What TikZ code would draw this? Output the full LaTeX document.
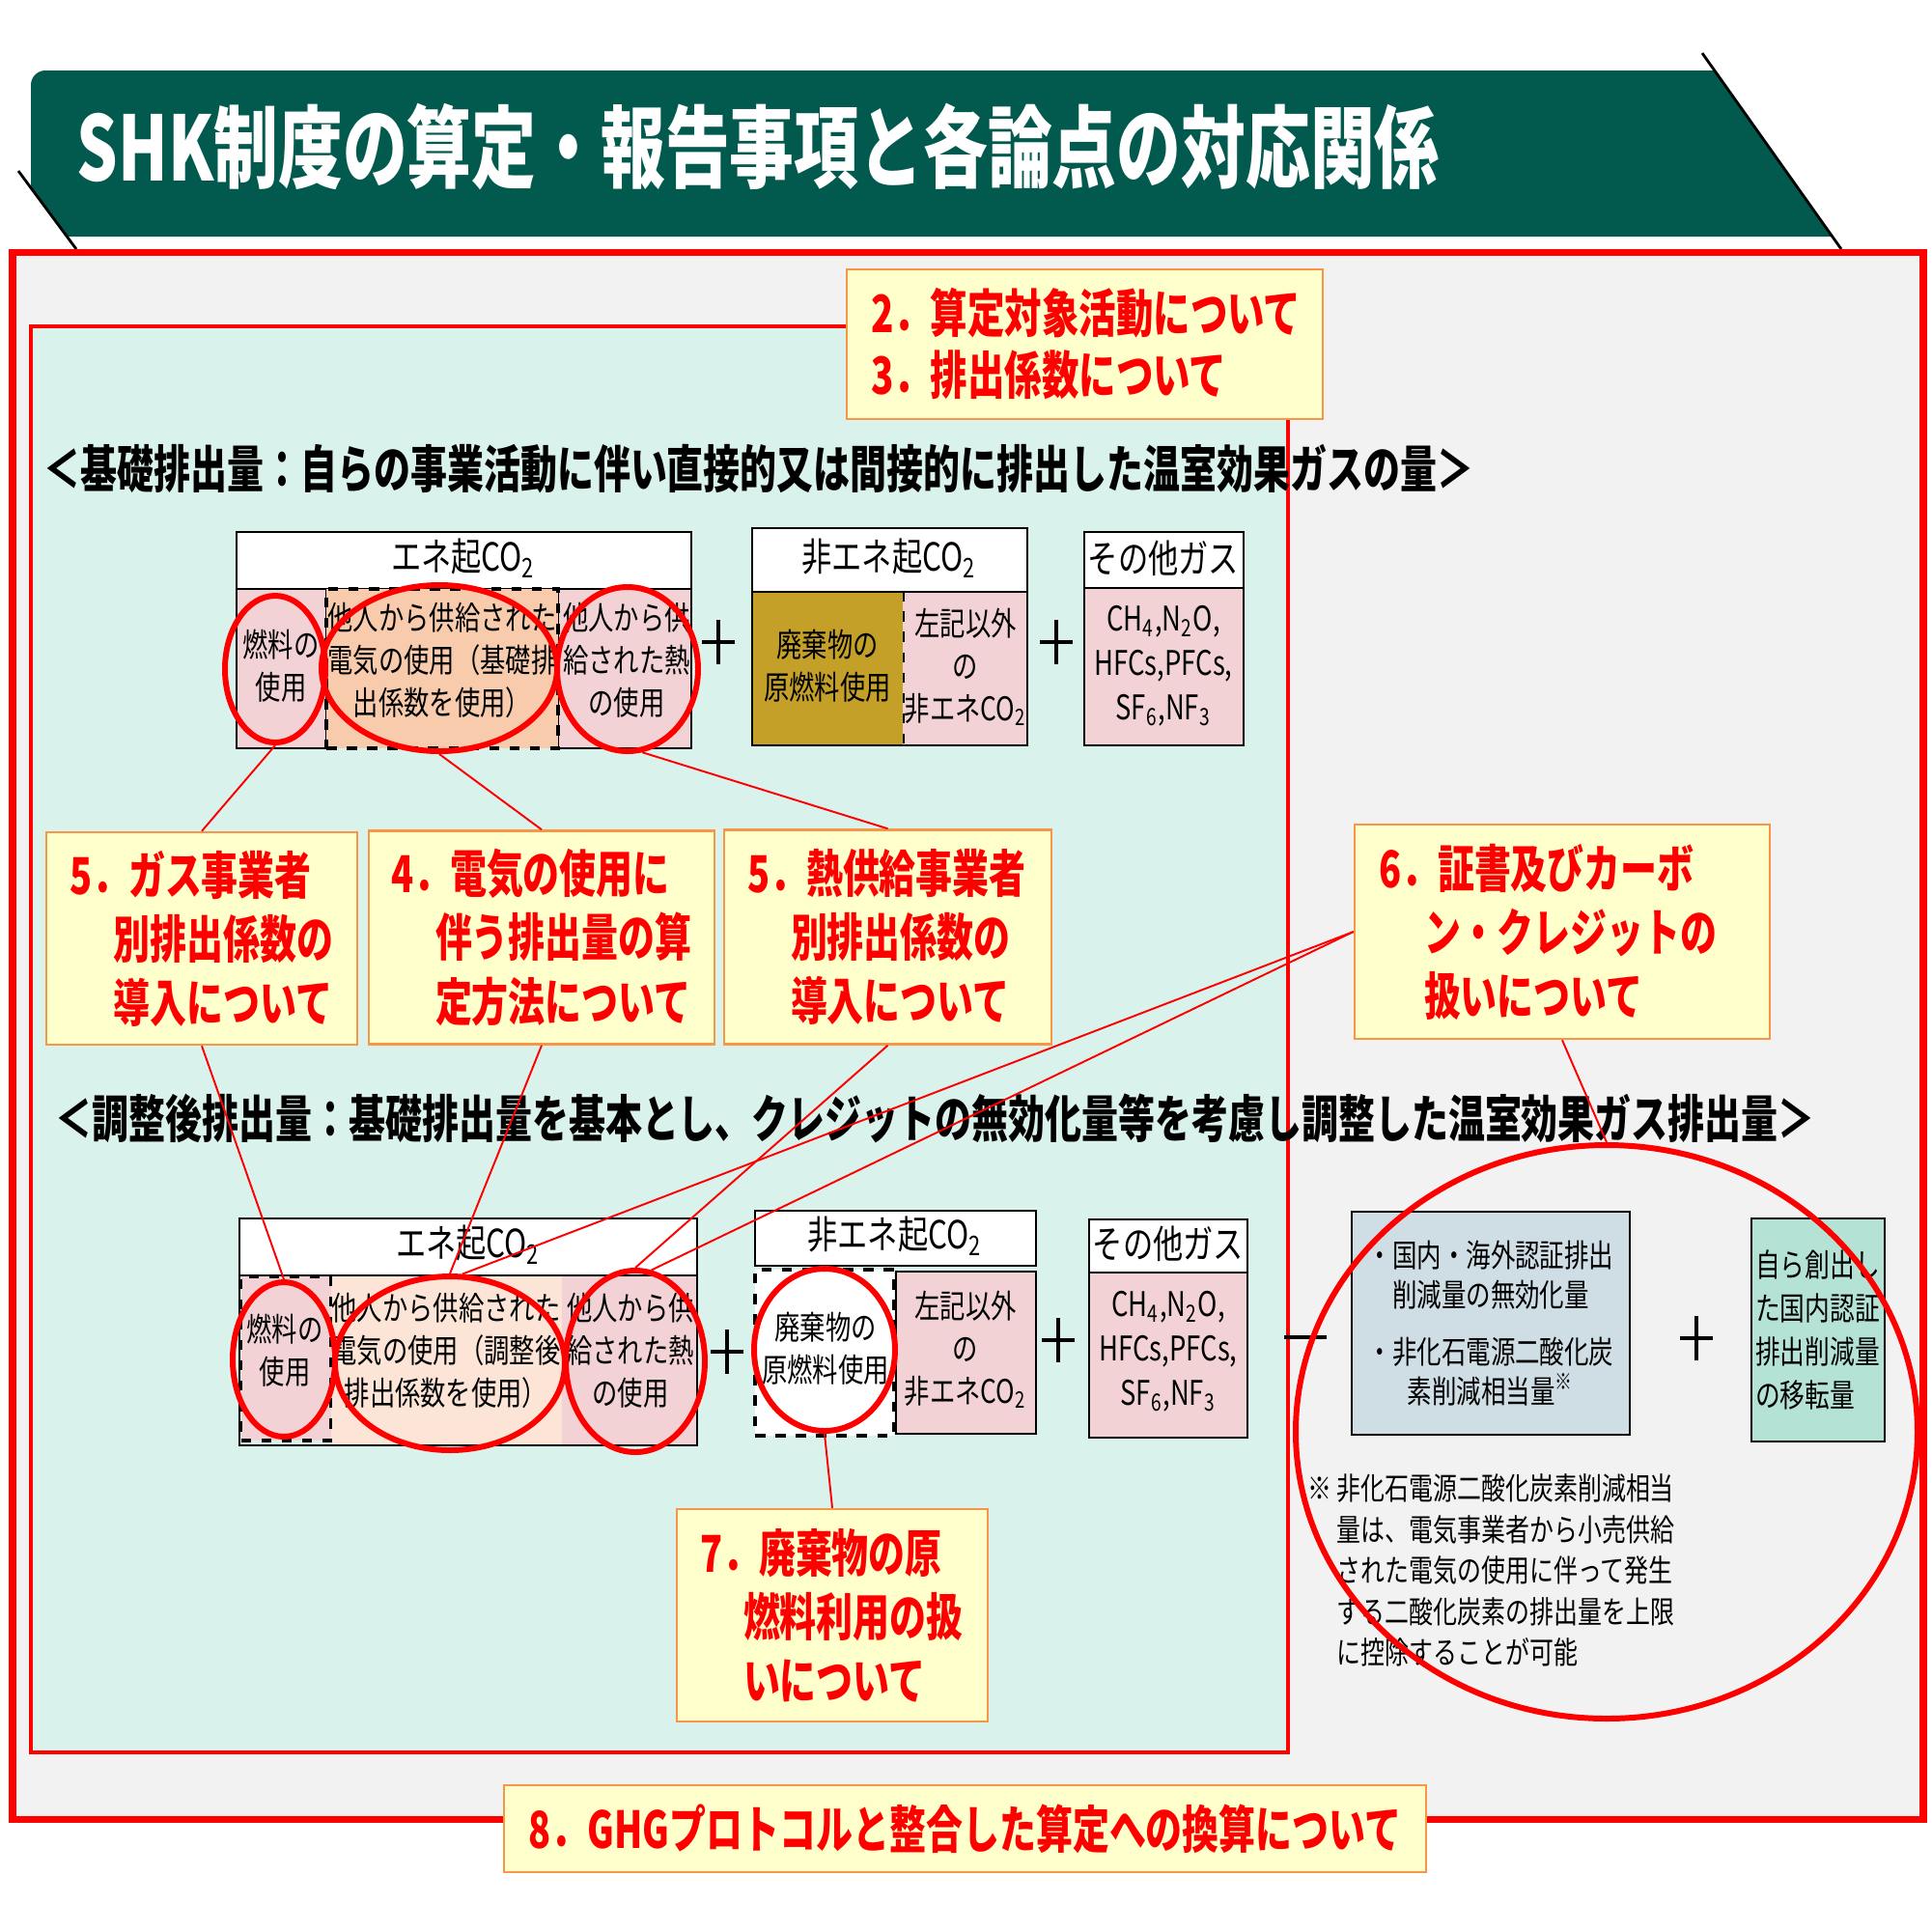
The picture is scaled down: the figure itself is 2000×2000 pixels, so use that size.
\documentclass[tikz,border=0pt]{standalone}
\usepackage{fontspec}
\setmainfont{Noto Sans CJK JP}[FakeStretch=0.78]
\newfontfamily\lblfont{Noto Sans CJK JP}[FakeStretch=0.72]
\usetikzlibrary{shapes.geometric}
\newcommand\fnt[2]{\fontsize{#1}{#2}\selectfont}
\definecolor{bannergreen}{RGB}{2,90,78}
\definecolor{framebg}{RGB}{242,242,242}
\definecolor{tealbg}{RGB}{217,242,236}
\definecolor{lblfill}{RGB}{255,255,204}
\definecolor{lbledge}{RGB}{247,150,70}
\definecolor{pinkc}{RGB}{242,210,213}
\definecolor{peachc}{RGB}{248,203,173}
\definecolor{lpeach}{RGB}{252,228,214}
\definecolor{goldc}{RGB}{197,160,40}
\definecolor{grayblue}{RGB}{207,221,228}
\definecolor{mintc}{RGB}{180,227,214}
\begin{document}
\begin{tikzpicture}[x=0.1mm,y=-0.1mm,
  cell/.style={draw=black, line width=0.6pt, inner sep=0},
  dcell/.style={draw=black, line width=0.9pt, dashed, inner sep=0},
  head/.style={cell, fill=white},
  ctext/.style={align=center, inner sep=0, font=\fnt{9.6}{12.5}},
  htext/.style={inner sep=0, font=\fnt{11.4}{14}},
  gtext/.style={align=center, inner sep=0, font=\fnt{10}{13.1}},
  ring/.style={ellipse, draw=red, line width=1.7pt, inner sep=0},
  lbl/.style={draw=lbledge, line width=0.7pt, fill=lblfill, text=red, font=\lblfont\bfseries\fnt{15}{18.8}, align=left, inner ysep=0},
  link/.style={red, line width=0.55pt},
  heading/.style={anchor=west, inner sep=0, font=\lblfont\bfseries\fnt{15.0}{17}},
  plusbar/.style={line width=1.4pt, black}]
\useasboundingbox (0,0) rectangle (2000,2000);
\fill[white] (0,0) rectangle (2000,2000);

% banner
\fill[bannergreen] (70,245) -- (32,194) [rounded corners=1.5mm] -- (32,73) [sharp corners] -- (1776,73) -- (1898,245) -- cycle;
\draw[line width=0.8pt] (1763,55) -- (1907,258);
\draw[line width=0.8pt] (19,177) -- (79,258);
\node[anchor=west, inner sep=0, text=white, font=\lblfont\bfseries\fnt{26.4}{30}] (title) at (79,152) {SHK制度の算定・報告事項と各論点の対応関係};

% frames
\draw[red, line width=2pt, fill=framebg] (13,261) rectangle (1992,1884);
\draw[red, line width=0.9pt, fill=tealbg] (32,338) rectangle (1334,1815);

% headings
\node[heading] (h1) at (45,486) {＜基礎排出量：自らの事業活動に伴い直接的又は間接的に排出した温室効果ガスの量＞};
\node[heading] (h2) at (57,1158) {＜調整後排出量：基礎排出量を基本とし、クレジットの無効化量等を考慮し調整した温室効果ガス排出量＞};

% ===== upper diagram =====
\node[head, minimum width=47.1mm, minimum height=5.9mm] (uEneHead) at (480.5,580.5) {};
\node[htext] (tUEneHead) at (480,578) {エネ起CO\textsubscript{2}};
\node[cell, fill=pinkc, minimum width=9.3mm, minimum height=16.5mm] (uFuel) at (291.5,692.5) {};
\node[cell, fill=pinkc, minimum width=13.8mm, minimum height=16.5mm] (uHeat) at (647,692.5) {};
\node[dcell, fill=peachc, minimum width=24.0mm, minimum height=16.5mm] (uElec) at (458,692.5) {};
\node[ctext] (tUFuel) at (291,690) {燃料の\\使用};
\node[ctext] (tUElec) at (458,684) {他人から供給された\\電気の使用（基礎排\\出係数を使用）};
\node[ctext] (tUHeat) at (649,684) {他人から供\\給された熱\\の使用};

\node[head, minimum width=28.5mm, minimum height=6.6mm] (uNonHead) at (921.5,580) {};
\node[htext] (tUNonHead) at (921,578) {非エネ起CO\textsubscript{2}};
\node[inner sep=0, fill=goldc, minimum width=15.6mm, minimum height=15.9mm] (uWaste) at (857,692.5) {};
\node[inner sep=0, fill=pinkc, minimum width=12.9mm, minimum height=15.9mm] (uOther) at (999.5,692.5) {};
\draw[line width=0.6pt] (779,613) rectangle (1064,772);
\draw[line width=0.6pt, dashed] (uWaste.north east) -- (uWaste.south east);
\node[ctext] (tUWaste) at (857,690) {廃棄物の\\原燃料使用};
\node[ctext] (tUOther) at (1000,691) {左記以外\\の\\非エネCO\textsubscript{2}};

\node[head, minimum width=16.5mm, minimum height=5.8mm] (uGasHead) at (1205.5,580) {};
\node[htext] (tUGasHead) at (1205,578) {その他ガス};
\node[cell, fill=pinkc, minimum width=16.5mm, minimum height=16.3mm] (uGas) at (1205.5,690.5) {};
\node[gtext] (tUGas) at (1205,690) {CH\textsubscript{4},N\textsubscript{2}O,\\HFCs,PFCs,\\SF\textsubscript{6},NF\textsubscript{3}};

\draw[plusbar] (727,665) -- (761,665) (744,642) -- (744,688);
\draw[plusbar] (1077,665) -- (1111,665) (1094,642) -- (1094,688);

% ===== lower diagram =====
\node[head, minimum width=47.4mm, minimum height=5.9mm] (lEneHead) at (485,1291.5) {};
\node[htext] (tLEneHead) at (485,1289) {エネ起CO\textsubscript{2}};
\node[inner sep=0, fill=lpeach, minimum width=23.9mm, minimum height=17.6mm] (lElec) at (462.5,1409) {};
\node[inner sep=0, fill=pinkc, minimum width=14.0mm, minimum height=17.6mm] (lHeat) at (652,1409) {};
\draw[line width=0.6pt] (248,1321) rectangle (722,1497);
\node[dcell, fill=pinkc, minimum width=9.3mm, minimum height=17.0mm] (lFuel) at (296,1407) {};
\node[ctext] (tLFuel) at (295,1399) {燃料の\\使用};
\node[ctext] (tLElec) at (462,1399) {他人から供給された\\電気の使用（調整後\\排出係数を使用）};
\node[ctext] (tLHeat) at (653,1399) {他人から供\\給された熱\\の使用};

\node[head, minimum width=29.1mm, minimum height=5.7mm] (lNonHead) at (927.5,1282.5) {};
\node[htext] (tLNonHead) at (927,1280) {非エネ起CO\textsubscript{2}};
\node[dcell, fill=white, minimum width=14.4mm, minimum height=17.2mm] (lWaste) at (854,1401) {};
\node[cell, fill=pinkc, minimum width=14.5mm, minimum height=16.8mm] (lOther) at (1000.5,1401) {};
\node[ctext] (tLWaste) at (855,1397) {廃棄物の\\原燃料使用};
\node[ctext] (tLOther) at (1000,1398) {左記以外\\の\\非エネCO\textsubscript{2}};

\node[head, minimum width=16.4mm, minimum height=5.5mm] (lGasHead) at (1210,1290.5) {};
\node[htext] (tLGasHead) at (1210,1288) {その他ガス};
\node[cell, fill=pinkc, minimum width=16.4mm, minimum height=17.1mm] (lGas) at (1210,1403.5) {};
\node[gtext] (tLGas) at (1210,1400) {CH\textsubscript{4},N\textsubscript{2}O,\\HFCs,PFCs,\\SF\textsubscript{6},NF\textsubscript{3}};

\draw[plusbar] (736,1400) -- (770,1400) (753,1377) -- (753,1423);
\draw[plusbar] (1079,1388) -- (1113,1388) (1096,1365) -- (1096,1411);
\draw[plusbar] (1330,1385) -- (1374,1385);
\draw[plusbar] (1740,1386) -- (1774,1386) (1757,1363) -- (1757,1409);

\node[cell, fill=grayblue, minimum width=28.8mm, minimum height=23.1mm, align=center, font=\fnt{9.3}{11.7}] (credit) at (1544,1370.5) {・国内・海外認証排出\\削減量の無効化量\\[5pt]・非化石電源二酸化炭\\素削減相当量\textsuperscript{※}};
\node[cell, fill=mintc, minimum width=13.8mm, minimum height=23.1mm, text width=13.0mm, inner xsep=0.4mm, align=left, font=\fnt{9.4}{12.8}] (transfer) at (1883,1377.5) {自ら創出し\\た国内認証\\排出削減量\\の移転量};

\node[anchor=north west, inner sep=0, align=left, font=\fnt{9.1}{12.1}] (note) at (1354,1526) {\makebox[3.0mm][l]{※}非化石電源二酸化炭素削減相当\\\hspace*{3.0mm}量は、電気事業者から小売供給\\\hspace*{3.0mm}された電気の使用に伴って発生\\\hspace*{3.0mm}する二酸化炭素の排出量を上限\\\hspace*{3.0mm}に控除することが可能};

% ===== labels =====
\node[lbl, minimum width=49.3mm, minimum height=15.5mm, text width=44.3mm, inner xsep=2.5mm, font=\lblfont\bfseries\fnt{15.2}{18.2}] (L23) at (1123.5,356.5) {2．算定対象活動について\\3．排出係数について};
\node[lbl, minimum width=32.2mm, minimum height=22mm, text width=27.4mm, inner xsep=2.4mm] (L5g) at (209,972) {5．ガス事業者\\\hspace*{4.6mm}別排出係数の\\\hspace*{4.6mm}導入について};
\node[lbl, minimum width=35.8mm, minimum height=22.1mm, text width=31.2mm, inner xsep=2.3mm] (L4) at (561,971) {4．電気の使用に\\\hspace*{4.6mm}伴う排出量の算\\\hspace*{4.6mm}定方法について};
\node[lbl, minimum width=33.9mm, minimum height=22.2mm, text width=29.1mm, inner xsep=2.4mm] (L5h) at (919.5,970.5) {5．熱供給事業者\\\hspace*{4.5mm}別排出係数の\\\hspace*{4.5mm}導入について};
\node[lbl, minimum width=43.0mm, minimum height=22.2mm, text width=38.0mm, inner xsep=2.5mm] (L6) at (1618,965) {6．証書及びカーボ\\\hspace*{4.7mm}ン・クレジットの\\\hspace*{4.7mm}扱いについて};
\node[lbl, minimum width=32.2mm, minimum height=22.0mm, text width=27.4mm, inner xsep=2.4mm] (L7) at (862,1673) {7．廃棄物の原\\\hspace*{4.5mm}燃料利用の扱\\\hspace*{4.5mm}いについて};
\node[lbl, minimum width=95.5mm, minimum height=9.0mm, align=center, inner xsep=0] (L8) at (999.5,1894) {8．GHGプロトコルと整合した算定への換算について};

% ===== rings =====
\node[ring, minimum width=10.4mm, minimum height=15.2mm] (eU1) at (285,693) {};
\node[ring, minimum width=24.4mm, minimum height=17.2mm] (eU2) at (455,692) {};
\node[ring, minimum width=14.6mm, minimum height=17.0mm] (eU3) at (650,693) {};
\node[ring, minimum width=10.6mm, minimum height=16.0mm] (eL1) at (294,1408) {};
\node[ring, minimum width=23.8mm, minimum height=18.0mm] (eL2) at (466,1412) {};
\node[ring, minimum width=14.4mm, minimum height=18.8mm] (eL3) at (658,1410) {};
\node[ring, minimum width=14.6mm, minimum height=16.8mm] (eL4) at (854,1398) {};
\node[ring, minimum width=64.4mm, minimum height=59.4mm] (bigE) at (1664,1483) {};

% ===== connectors =====
\draw[link] (eU1.south) -- (L5g.north);
\draw[link] (eU2.south) -- (L4.north);
\draw[link] (eU3.-80) -- (L5h.north);
\draw[link] (L5g.south) -- (eL1.north);
\draw[link] (L4.south) -- (eL2.north);
\draw[link] (L5h.south) -- (eL3.north);
\draw[link] (L6.west) -- (eL2.82);
\draw[link] (L6.west) -- (eL3.80);
\draw[link] (L6.south) -- (bigE.north);
\draw[link] (eL4.south) -- (L7.north);
\end{tikzpicture}
\end{document}
